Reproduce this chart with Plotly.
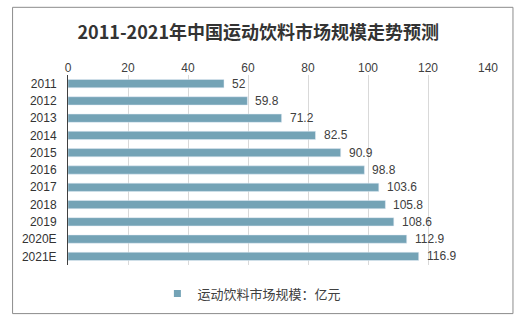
import plotly.graph_objects as go

years = ["2011", "2012", "2013", "2014", "2015", "2016", "2017", "2018", "2019", "2020E", "2021E"]
values = [52, 59.8, 71.2, 82.5, 90.9, 98.8, 103.6, 105.8, 108.6, 112.9, 116.9]
value_labels = ["52", "59.8", "71.2", "82.5", "90.9", "98.8", "103.6", "105.8", "108.6", "112.9", "116.9"]
x_ticks = [0, 20, 40, 60, 80, 100, 120, 140]
series_name = "运动饮料市场规模：亿元"
bar_color = "#74A3B6"

W, H = 532, 323
L, R, T, B = 67.5, 488, 75.4, 264.6

def px_x(p):
    return (p - L) / (R - L)

def px_y(p):
    return (B - p) / (B - T)

fig = go.Figure()
fig.add_trace(go.Bar(
    y=years, x=values, orientation="h",
    marker=dict(color=bar_color),
    width=0.48,
    name=series_name,
    showlegend=False,
))
# legend entry (small square marker like the reference)
fig.add_trace(go.Scatter(
    x=[None], y=[None], mode="markers",
    marker=dict(symbol="square", size=7, color=bar_color),
    name=series_name, showlegend=True,
))

# value labels: category axis positions use the category index
annotations = [
    dict(x=v, y=i, xref="x", yref="y", text=lbl, showarrow=False,
         xanchor="left", yanchor="middle", xshift=6,
         font=dict(size=12, color="#404040", family="Liberation Sans, Noto Sans CJK SC"))
    for i, (v, lbl) in enumerate(zip(values, value_labels))
]

fig.update_layout(
    width=W, height=H,
    margin=dict(l=L, r=W - R, t=T, b=H - B, pad=0),
    paper_bgcolor="white", plot_bgcolor="white",
    font=dict(family="Liberation Sans, Noto Sans CJK SC", size=12, color="#404040"),
    title=dict(
        text="<b>2011-2021年中国运动饮料市场规模走势预测</b>",
        x=px_x(258), xref="paper", xanchor="center",
        y=1 - 33 / H, yref="container", yanchor="middle",
        font=dict(family="Noto Sans CJK SC", size=18, color="#333333"),
    ),
    xaxis=dict(
        type="linear",
        range=[0, 140], side="top", tickvals=x_ticks,
        showgrid=True, gridcolor="#D9D9D9", gridwidth=1,
        zeroline=False, showline=False, ticks="",
        tickfont=dict(size=12, color="#404040"),
        fixedrange=True,
    ),
    yaxis=dict(
        type="category",
        categoryorder="array", categoryarray=years,
        range=[len(years) - 0.5, -0.5],
        showline=True, linecolor="#404040", linewidth=1,
        showgrid=False, ticks="", ticklabelstandoff=8,
        tickfont=dict(size=12, color="#333333"),
    ),
    bargap=0.5,
    annotations=annotations,
    legend=dict(
        orientation="h", x=px_x(157), xanchor="left",
        y=px_y(293), yanchor="middle",
        font=dict(size=13, color="#404040", family="Noto Sans CJK SC"),
        itemwidth=30,
    ),
    shapes=[dict(
        type="rect", xref="paper", yref="paper",
        x0=px_x(12), x1=px_x(513), y0=px_y(313), y1=px_y(8),
        line=dict(color="#8C8C8C", width=1), fillcolor="rgba(0,0,0,0)",
    )],
)

fig.write_html("out.html")
